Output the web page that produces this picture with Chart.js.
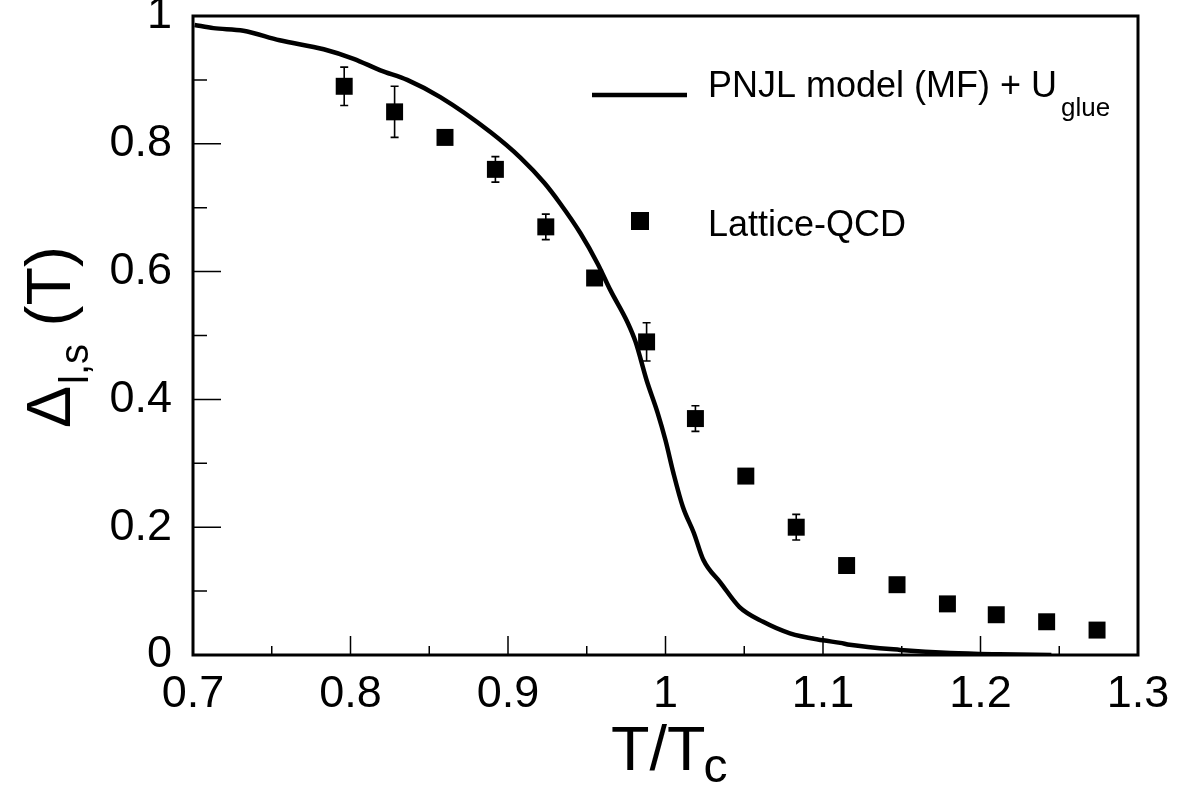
<!DOCTYPE html>
<html>
<head>
<meta charset="utf-8">
<script src="https://cdn.jsdelivr.net/npm/chart.js@4.4.1/dist/chart.umd.min.js"></script>
<style>
html,body{margin:0;padding:0;background:#fff;}
#wrap{width:1182px;height:800px;position:relative;}
</style>
</head>
<body>
<div id="wrap"><canvas id="c" width="1182" height="800"></canvas></div>
<script>
// ---- data ----
const modelT = [0.701,0.713,0.732,0.755,0.783,0.802,0.819,0.836,0.857,0.889,0.908,0.923,0.933,0.946,0.957,0.965,0.976,0.981,0.988,0.995,1.000,1.005,1.011,1.018,1.024,1.035,1.047,1.062,1.079,1.100,1.111,1.117,1.149,1.181,1.212,1.245];
const modelDelta = [0.986,0.981,0.977,0.962,0.948,0.933,0.915,0.900,0.873,0.818,0.778,0.739,0.707,0.660,0.612,0.571,0.520,0.490,0.430,0.379,0.336,0.285,0.232,0.191,0.149,0.113,0.075,0.052,0.034,0.023,0.019,0.016,0.008,0.003,0.001,0.000];
const latticeT = [0.796,0.828,0.860,0.892,0.924,0.955,0.988,1.019,1.051,1.083,1.115,1.147,1.179,1.210,1.242,1.274];
const latticeDelta = [0.890,0.850,0.810,0.760,0.670,0.590,0.490,0.370,0.280,0.200,0.140,0.110,0.080,0.063,0.052,0.039];
const latticeErr = [0.030,0.040,0.000,0.020,0.020,0.000,0.030,0.020,0.000,0.020,0.000,0.000,0.000,0.000,0.000,0.000];
const xTicks = [0.7,0.8,0.9,1.0,1.1,1.2,1.3];
const xMinorTicks = [0.75,0.85,0.95,1.05,1.15,1.25];
const yTicks = [0,0.2,0.4,0.6,0.8,1.0];
const yMinorTicks = [0.1,0.3,0.5,0.7,0.9];
const legendLabels = ['PNJL model (MF) + U', 'glue', 'Lattice-QCD'];
const xTitle = ['T/T', 'c'];
const yTitle = ['\u0394', 'l,s', ' (T)'];

const FONT = "'Liberation Sans', Arial, Helvetica, sans-serif";

const modelData = modelT.map((t,i)=>({x:t,y:modelDelta[i]}));
const latticeData = latticeT.map((t,i)=>({x:t,y:latticeDelta[i]}));

const errorBars = {
  id:'errorBars',
  beforeDatasetsDraw(chart){
    const ctx = chart.ctx, xs = chart.scales.x, ys = chart.scales.y;
    ctx.save();
    ctx.strokeStyle = '#000';
    ctx.lineWidth = 1.6;
    latticeT.forEach((t,i)=>{
      const e = latticeErr[i];
      if(!e) return;
      const px = xs.getPixelForValue(t);
      const y1 = ys.getPixelForValue(latticeDelta[i]+e);
      const y2 = ys.getPixelForValue(latticeDelta[i]-e);
      ctx.beginPath();
      ctx.moveTo(px,y1); ctx.lineTo(px,y2);
      ctx.moveTo(px-4,y1); ctx.lineTo(px+4,y1);
      ctx.moveTo(px-4,y2); ctx.lineTo(px+4,y2);
      ctx.stroke();
    });
    ctx.restore();
  }
};

const frameAndText = {
  id:'frameAndText',
  afterDraw(chart){
    const ctx = chart.ctx, a = chart.chartArea, xs = chart.scales.x, ys = chart.scales.y;
    ctx.save();
    ctx.strokeStyle = '#000';
    // ticks inward
    ctx.lineWidth = 1.5;
    ctx.beginPath();
    xTicks.forEach(v=>{const p=xs.getPixelForValue(v); ctx.moveTo(p,a.bottom); ctx.lineTo(p,a.bottom-19);});
    xMinorTicks.forEach(v=>{const p=xs.getPixelForValue(v); ctx.moveTo(p,a.bottom); ctx.lineTo(p,a.bottom-9);});
    yTicks.forEach(v=>{const p=ys.getPixelForValue(v); ctx.moveTo(a.left,p); ctx.lineTo(a.left+28,p);});
    yMinorTicks.forEach(v=>{const p=ys.getPixelForValue(v); ctx.moveTo(a.left,p); ctx.lineTo(a.left+14,p);});
    ctx.stroke();
    // frame
    ctx.lineWidth = 3;
    ctx.strokeRect(a.left, a.top, a.right-a.left, a.bottom-a.top);

    ctx.fillStyle = '#000';
    ctx.textBaseline = 'alphabetic';
    ctx.textAlign = 'left';
    // legend
    ctx.lineWidth = 4.5;
    ctx.beginPath(); ctx.moveTo(592,95); ctx.lineTo(687,95); ctx.stroke();
    ctx.font = '36px ' + FONT;
    ctx.fillText(legendLabels[0], 708, 97);
    const w0 = ctx.measureText(legendLabels[0]).width;
    ctx.font = '26px ' + FONT;
    ctx.fillText(legendLabels[1], 708 + w0 + 4, 116);
    ctx.fillRect(631, 212, 18, 18);
    ctx.font = '36px ' + FONT;
    ctx.fillText(legendLabels[2], 708, 236);

    // x title
    ctx.font = '63px ' + FONT;
    ctx.fillText(xTitle[0], 611, 770);
    const wx = ctx.measureText(xTitle[0]).width;
    ctx.font = '48px ' + FONT;
    ctx.fillText(xTitle[1], 611 + wx - 2, 782);

    // y title rotated
    ctx.save();
    ctx.translate(70, 428);
    ctx.rotate(-Math.PI/2);
    ctx.font = '63px ' + FONT;
    ctx.fillText(yTitle[0], 0, 0);
    let w = ctx.measureText(yTitle[0]).width;
    ctx.font = '40px ' + FONT;
    ctx.fillText(yTitle[1], w + 2, 18);
    w += 2 + ctx.measureText(yTitle[1]).width;
    ctx.font = '63px ' + FONT;
    ctx.fillText(yTitle[2], w, 0);
    ctx.restore();
    ctx.restore();
  }
};

new Chart(document.getElementById('c'), {
  type:'scatter',
  data:{
    datasets:[
      {label:'PNJL model (MF) + U_glue', data:modelData, showLine:true, borderColor:'#000', borderWidth:4.5, pointRadius:0, fill:false, cubicInterpolationMode:'monotone', order:2},
      {label:'Lattice-QCD', data:latticeData, showLine:false, pointStyle:'rect', pointRadius:12, pointHoverRadius:12, backgroundColor:'#000', borderColor:'#000', borderWidth:0, order:1}
    ]
  },
  options:{
    responsive:false,
    animation:false,
    events:[],
    layout:{padding:{top:16,right:44,left:0,bottom:0}},
    plugins:{legend:{display:false}, tooltip:{enabled:false}},
    scales:{
      x:{
        type:'linear', min:0.7, max:1.3,
        afterBuildTicks(s){ s.ticks = xTicks.map(v=>({value:v})); },
        afterFit(s){ s.height = 145; s.paddingLeft = 0; s.paddingRight = 0; },
        grid:{display:false, drawTicks:false},
        border:{display:false},
        ticks:{color:'#000', font:{family:FONT, size:45}, padding:13, maxRotation:0, autoSkip:false,
          callback:(v)=>String(Math.round(v*10)/10)}
      },
      y:{
        type:'linear', min:0, max:1,
        afterBuildTicks(s){ s.ticks = yTicks.map(v=>({value:v})); },
        afterFit(s){ s.width = 193; s.paddingTop = 0; s.paddingBottom = 0; },
        grid:{display:false, drawTicks:false},
        border:{display:false},
        ticks:{color:'#000', font:{family:FONT, size:45}, padding:21, autoSkip:false,
          callback:(v)=>String(Math.round(v*10)/10)}
      }
    }
  },
  plugins:[errorBars, frameAndText]
});
</script>
</body>
</html>
